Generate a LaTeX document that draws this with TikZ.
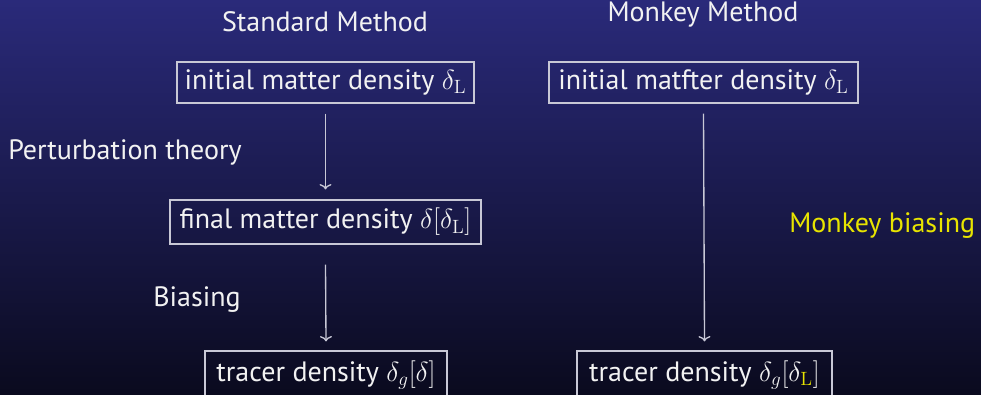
\documentclass[tikz,border=0pt]{standalone}
\usepackage[no-math]{fontspec}
\setmainfont{PT Sans}
\usetikzlibrary{arrows.meta}
\definecolor{bgtop}{HTML}{2A2A7A}
\definecolor{bgbot}{HTML}{0A0A1E}
\definecolor{fg}{HTML}{F2F2F2}
\definecolor{boxline}{HTML}{C8C8D6}
\definecolor{monkeyyellow}{HTML}{E8E400}
\tikzset{
  txt/.style={text=fg, font=\fontsize{21}{25}\selectfont, inner sep=0pt},
  densbox/.style={draw=boxline, line width=0.9pt, text=fg, font=\fontsize{21}{25}\selectfont, inner sep=0pt},
  flow/.style={draw=boxline, line width=1pt, -{To[length=4pt,width=9pt]}},
}
\begin{document}
\begin{tikzpicture}[x=0.75pt,y=-0.75pt]
\shade[top color=bgtop, bottom color=bgbot] (0,0) rectangle (981,395);
\useasboundingbox (0,0) rectangle (981,395);

\node[txt] (hstd) at (325,22) {Standard Method};
\node[txt] (hmon) at (703,15) {Monkey Method};

\node[densbox, minimum width=222.75pt, minimum height=30.75pt] (ini1) at (325.5,82.5) {initial matter density $\delta_{\mathrm{L}}$};
\node[densbox, minimum width=231.75pt, minimum height=30.75pt] (ini2) at (703.5,82.5) {initial matfter density $\delta_{\mathrm{L}}$};
\node[densbox, minimum width=233.25pt, minimum height=33pt] (fin) at (325.5,222) {final matter density $\delta[\delta_{\mathrm{L}}]$};
\node[densbox, minimum width=181.5pt, minimum height=36pt] (tr1) at (326,375) {tracer density $\delta_g[\delta]$};
\node[densbox, minimum width=191.25pt, minimum height=36pt] (tr2) at (704.5,375) {tracer density $\delta_g[\delta_{\textcolor{monkeyyellow}{\mathrm{L}}}]$};

\node[txt, anchor=west] (pt) at (8,152) {Perturbation theory};
\node[txt, anchor=west] (bias) at (153,300) {Biasing};
\node[txt, anchor=west, text=monkeyyellow] (mb) at (789,226) {Monkey biasing};

\draw[flow] ([yshift=-7.5pt]ini1.south) -- ([yshift=7.5pt]fin.north);
\draw[flow] ([yshift=-15pt]fin.south) -- ([yshift=6.75pt]tr1.north);
\draw[flow] ([yshift=-7.5pt]ini2.south) -- ([yshift=6.75pt]tr2.north);
\end{tikzpicture}
\end{document}
